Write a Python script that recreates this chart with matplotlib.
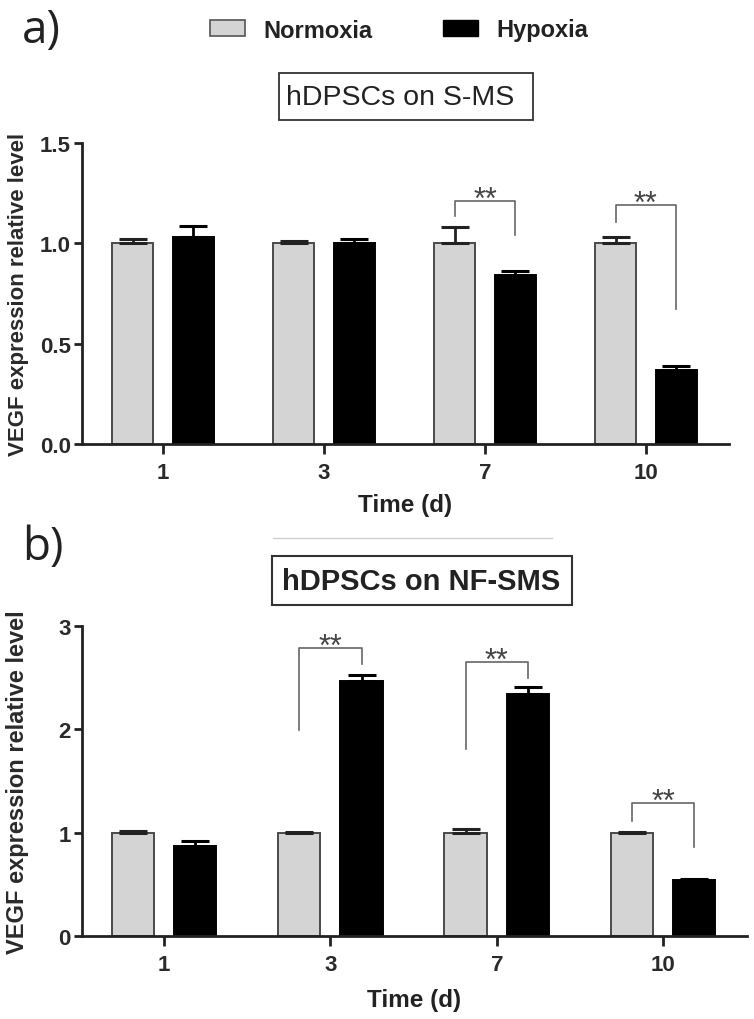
import numpy as np
import matplotlib
matplotlib.use("Agg")
import matplotlib.pyplot as plt
from matplotlib.patches import Patch, Rectangle
from matplotlib.lines import Line2D

plt.rcParams['font.family'] = ['Liberation Sans', 'DejaVu Sans']

# ---------------- data ----------------
days = ["1", "3", "7", "10"]

a_norm = [1.00, 1.00, 1.00, 1.00]
a_norm_err = [0.02, 0.01, 0.08, 0.03]
a_hyp = [1.03, 1.00, 0.84, 0.37]
a_hyp_err = [0.055, 0.02, 0.02, 0.02]

b_norm = [1.00, 1.00, 1.00, 1.00]
b_norm_err = [0.02, 0.01, 0.035, 0.01]
b_hyp = [0.87, 2.47, 2.34, 0.54]
b_hyp_err = [0.05, 0.06, 0.07, 0.01]

# significance brackets: group index, bracket top, left leg end, right leg end
a_sig_group = [2, 3]
a_sig_top = [1.21, 1.19]
a_sig_left = [1.135, 1.105]
a_sig_right = [1.04, 0.675]

b_sig_group = [1, 2, 3]
b_sig_top = [2.79, 2.65, 1.287]
b_sig_left = [1.99, 1.81, 1.115]
b_sig_right = [2.635, 2.50, 0.857]

W, H = 754, 1020
fig = plt.figure(figsize=(W / 100, H / 100), dpi=100)

def fx(px):
    return px / W

def fy(py):
    return 1 - py / H

def ax_rect(x0, x1, ytop, ybot):
    return [x0 / W, (H - ybot) / H, (x1 - x0) / W, (ybot - ytop) / H]

def draw_panel(ax, norm, norm_err, hyp, hyp_err, ylim, yticks, yticklabels,
               xlim, sig_group, sig_top, sig_left, sig_right, ylab_x, ylab_size,
               xlab_pad):
    x = np.arange(len(days))
    bw = 0.255
    off = 0.187
    ax.bar(x - off, norm, bw, color='#d4d4d4', edgecolor='#4a4a4a', linewidth=1.4, zorder=2)
    ax.bar(x + off, hyp, bw, color='#000000', edgecolor='#000000', linewidth=1.4, zorder=2)
    ax.errorbar(x - off, norm, yerr=[np.zeros(len(norm)), norm_err], fmt='none',
                ecolor='#222222', elinewidth=2, capsize=10, capthick=2.2, zorder=3)
    ax.errorbar(x + off, hyp, yerr=[np.zeros(len(hyp)), hyp_err], fmt='none',
                ecolor='#000000', elinewidth=2, capsize=10, capthick=2.2, zorder=3)
    for g, t, l, r in zip(sig_group, sig_top, sig_left, sig_right):
        xl, xr = g - off, g + off
        ax.plot([xl, xl, xr, xr], [l, t, t, r], color='#666666', lw=1.2, zorder=4)
        ax.annotate('**', xy=(g, t), xytext=(0, -5), textcoords='offset points',
                    ha='center', va='baseline', fontsize=22, color='#444444')
    ax.set_xlim(*xlim)
    ax.set_ylim(*ylim)
    ax.set_xticks(x)
    ax.set_xticklabels(days, fontsize=16, fontweight='bold', color='#2a2a2a')
    ax.set_yticks(yticks)
    ax.set_yticklabels(yticklabels, fontsize=16, fontweight='bold', color='#2a2a2a')
    for s in ['top', 'right']:
        ax.spines[s].set_visible(False)
    for s in ['left', 'bottom']:
        ax.spines[s].set_linewidth(2)
        ax.spines[s].set_color('#222222')
    ax.tick_params(axis='y', direction='out', width=2, length=6, color='#222222', pad=2)
    ax.tick_params(axis='x', direction='out', width=2, length=7, color='#222222', pad=6)
    ax.set_xlabel('Time (d)', fontsize=17.5, fontweight='bold', color='#222222',
                  labelpad=xlab_pad)
    ax.set_ylabel('VEGF expression relative level', fontsize=ylab_size, fontweight='bold',
                  color='#2a2a2a')
    ax.yaxis.set_label_coords(ylab_x, 0.5)

ax1 = fig.add_axes(ax_rect(82, 729, 144, 445))
draw_panel(ax1, a_norm, a_norm_err, a_hyp, a_hyp_err, (0, 1.5), [0, 0.5, 1.0, 1.5],
           ['0.0', '0.5', '1.0', '1.5'], (-0.503, 3.516),
           a_sig_group, a_sig_top, a_sig_left, a_sig_right, (29 - 82) / 647, 16, 7)

ax2 = fig.add_axes(ax_rect(82, 747, 627, 937))
draw_panel(ax2, b_norm, b_norm_err, b_hyp, b_hyp_err, (0, 3), [0, 1, 2, 3],
           ['0', '1', '2', '3'], (-0.493, 3.504),
           b_sig_group, b_sig_top, b_sig_left, b_sig_right, (29 - 82) / 665, 17, 9)

# panel letters
fig.text(fx(22), fy(31), 'a)', fontsize=33, family='Open Sans', ha='left', va='center',
         color='#222222')
fig.text(fx(22), fy(548), 'b)', fontsize=33, family='Open Sans', ha='left', va='center',
         color='#222222')

# legend
handles = [Patch(facecolor='#d4d4d4', edgecolor='#555555', linewidth=1.2, label='Normoxia'),
           Patch(facecolor='#000000', edgecolor='#000000', label='Hypoxia')]
fig.legend(handles=handles, loc='center', bbox_to_anchor=(fx(399), fy(31)), ncol=2,
           frameon=False, prop={'size': 17, 'weight': 'bold'}, handlelength=1.5,
           handleheight=0.65, columnspacing=3.0, handletextpad=0.75,
           labelcolor='#222222')

# boxed titles
fig.add_artist(Rectangle((fx(279), fy(121)), fx(533) - fx(279), fy(74) - fy(121),
                         transform=fig.transFigure, facecolor='white',
                         edgecolor='#333333', lw=1.3))
fig.text(fx(400), fy(98), 'hDPSCs on S-MS', fontsize=20.5, ha='center', va='center',
         color='#222222')
fig.add_artist(Rectangle((fx(272), fy(606)), fx(572) - fx(272), fy(557) - fy(606),
                         transform=fig.transFigure, facecolor='white',
                         edgecolor='#333333', lw=1.5))
fig.text(fx(421), fy(582), 'hDPSCs on NF-SMS', fontsize=21, fontweight='bold',
         ha='center', va='center', color='#222222')

# faint separator line
fig.add_artist(Line2D([fx(273), fx(552)], [fy(539), fy(539)], color='#cccccc', lw=0.9))

fig.savefig('out.png', dpi=100, facecolor='white')
